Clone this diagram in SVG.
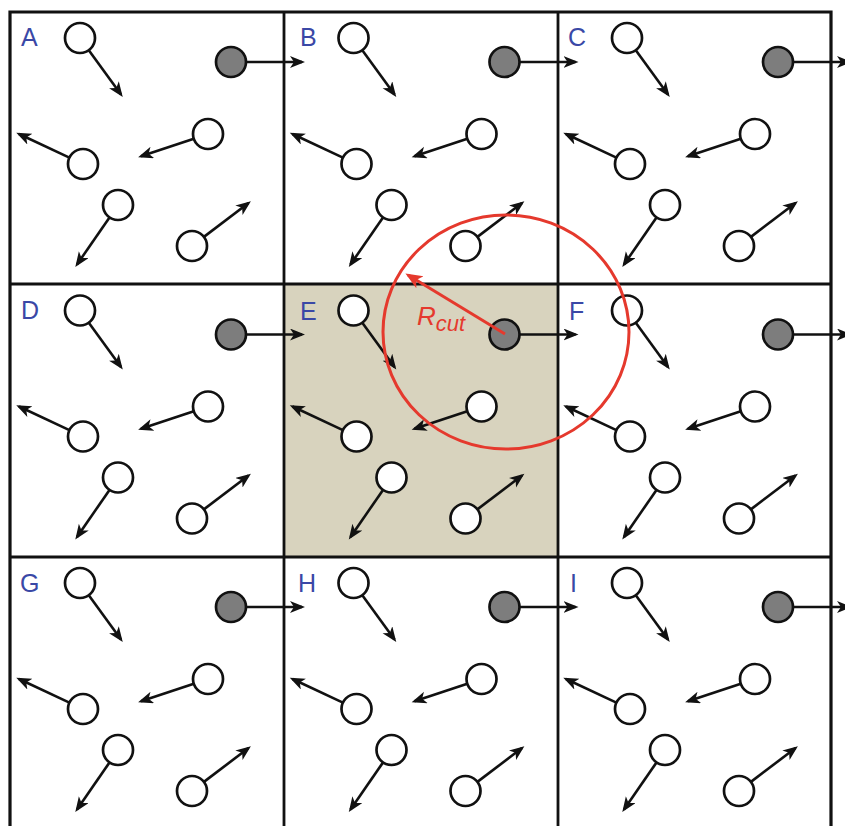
<svg xmlns="http://www.w3.org/2000/svg" xmlns:xlink="http://www.w3.org/1999/xlink" width="845" height="826" viewBox="0 0 845 826">
  <style>
    .grid { stroke: #111; stroke-width: 2.8; fill: none; }
    .border { stroke: #111; stroke-width: 3.2; fill: none; }
    .p { fill: #fff; stroke: #111; stroke-width: 2.7; }
    .pg { fill: #7d7d7d; stroke: #111; stroke-width: 2.7; }
    .v { stroke: #111; stroke-width: 2.6; fill: none; marker-end: url(#head); }
    .lbl { font-family: "Liberation Sans", Arial, sans-serif; font-size: 25px; fill: #3a48a6; }
    .cut { stroke: #e5392d; stroke-width: 3; fill: none; }
    .rtxt { font-family: "Liberation Sans", Arial, sans-serif; font-style: italic; fill: #e5392d; }
  </style>
  <defs>
    <marker id="head" markerUnits="userSpaceOnUse" markerWidth="18" markerHeight="14" refX="12" refY="6" orient="auto">
      <path d="M0,0 L15,6 L0,12 L4,6 z" fill="#111"/>
    </marker>
    <marker id="redhead" markerUnits="userSpaceOnUse" markerWidth="20" markerHeight="16" refX="14" refY="7" orient="auto">
      <path d="M0,0 L17,7 L0,14 L4.5,7 z" fill="#e5392d"/>
    </marker>
    <!-- one periodic image of the simulation box: particles and their velocity vectors -->
    <g id="box">
      <line class="v" x1="88.8" y1="50.2" x2="121" y2="94.5"/>
      <circle class="p" cx="80" cy="38" r="15"/>
      <line class="v" x1="246" y1="62" x2="302" y2="62"/>
      <circle class="pg" cx="231" cy="62" r="15"/>
      <line class="v" x1="193.8" y1="138.7" x2="141" y2="156.3"/>
      <circle class="p" cx="208" cy="134" r="15"/>
      <line class="v" x1="69.4" y1="157.6" x2="19" y2="134"/>
      <circle class="p" cx="83" cy="164" r="15"/>
      <line class="v" x1="109.5" y1="217.4" x2="77" y2="264.5"/>
      <circle class="p" cx="118" cy="205" r="15"/>
      <line class="v" x1="203.9" y1="236.9" x2="248.5" y2="203"/>
      <circle class="p" cx="192" cy="246" r="15"/>
    </g>
  </defs>

  <rect x="0" y="0" width="845" height="826" fill="#fff"/>
  <!-- central (primary) cell shading -->
  <rect x="284" y="284" width="274" height="273" fill="#d8d3be"/>

  <!-- cell grid -->
  <g id="grid">
    <line class="grid" x1="284" y1="12" x2="284" y2="826"/>
    <line class="grid" x1="558" y1="12" x2="558" y2="826"/>
    <line class="grid" x1="10" y1="284" x2="831" y2="284"/>
    <line class="grid" x1="10" y1="557" x2="831" y2="557"/>
    <path class="border" d="M10,826 L10,12 L831,12 L831,826"/>
  </g>

  <g id="cell-A"><use xlink:href="#box" href="#box"/><text class="lbl" x="21" y="46">A</text></g>
  <g id="cell-B"><use xlink:href="#box" href="#box" transform="translate(273.5,0)"/><text class="lbl" x="300" y="46">B</text></g>
  <g id="cell-C"><use xlink:href="#box" href="#box" transform="translate(547,0)"/><text class="lbl" x="568" y="46">C</text></g>
  <g id="cell-D"><use xlink:href="#box" href="#box" transform="translate(0,272.5)"/><text class="lbl" x="21" y="319">D</text></g>
  <g id="cell-E"><use xlink:href="#box" href="#box" transform="translate(273.5,272.5)"/><text class="lbl" x="300" y="320">E</text></g>
  <g id="cell-F"><use xlink:href="#box" href="#box" transform="translate(547,272.5)"/><text class="lbl" x="569" y="320">F</text></g>
  <g id="cell-G"><use xlink:href="#box" href="#box" transform="translate(0,545)"/><text class="lbl" x="20" y="592">G</text></g>
  <g id="cell-H"><use xlink:href="#box" href="#box" transform="translate(273.5,545)"/><text class="lbl" x="298" y="592">H</text></g>
  <g id="cell-I"><use xlink:href="#box" href="#box" transform="translate(547,545)"/><text class="lbl" x="570" y="592">I</text></g>

  <!-- cutoff sphere around the highlighted particle -->
  <g id="cutoff">
    <ellipse class="cut" cx="506" cy="332" rx="123" ry="117"/>
    <line class="cut" x1="505" y1="334" x2="408" y2="275" marker-end="url(#redhead)"/>
    <text class="rtxt" x="417" y="325" font-size="26">R<tspan font-size="22" dy="6">cut</tspan></text>
  </g>
</svg>
